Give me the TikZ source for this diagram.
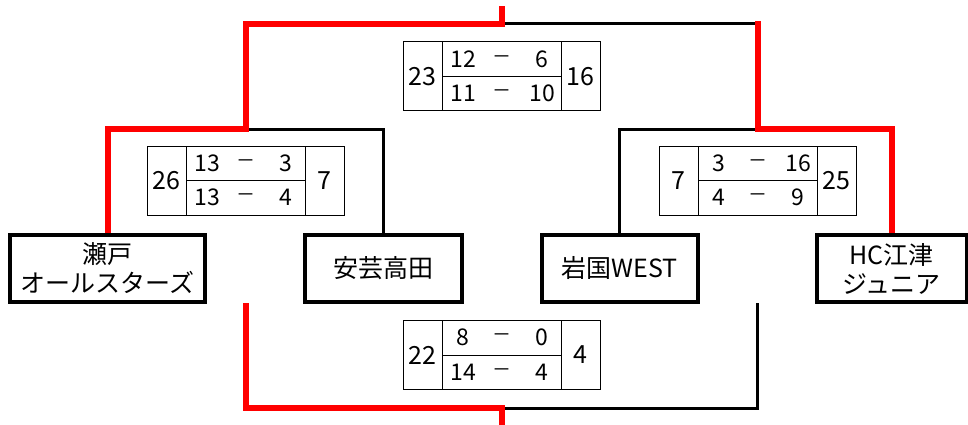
\documentclass[tikz,border=0pt]{standalone}
\usepackage{fontspec}
\setmainfont{Noto Sans CJK JP}
\usepackage{tikz}
\definecolor{wred}{RGB}{255, 0, 0}

\newcommand{\scoretable}[9]{%
  \node[total] (#1L) at (#2,#3) {#4};
  \node[half, anchor=north west] (#1A) at (#1L.north east) {};
  \node[half, anchor=north west] (#1B) at (#1A.south west) {};
  \node[total, anchor=north west] (#1R) at (#1A.north east) {#9};
  \node[score] (#1a1) at ([xshift=21pt]#1A.west) {#5};
  \node[scoresep] (#1d1) at (#1A.center) {－};
  \node[score] (#1b1) at ([xshift=-19pt]#1A.east) {#6};
  \node[score] (#1a2) at ([xshift=21pt]#1B.west) {#7};
  \node[scoresep] (#1d2) at (#1B.center) {－};
  \node[score] (#1b2) at ([xshift=-19pt]#1B.east) {#8};
}

\begin{document}
\begin{tikzpicture}[x=1pt, y=-1pt]
                \useasboundingbox (0,0) rectangle (968,425);

                \tikzstyle{team}=[rectangle, draw, line width=4pt, minimum height=67pt, inner sep=0pt, align=center, font=\fontsize{25}{29}\selectfont]
                \tikzstyle{total}=[rectangle, draw, line width=1pt, minimum width=39pt, minimum height=69pt, inner sep=0pt, outer sep=0pt, font=\fontsize{25}{25}\selectfont]
                \tikzstyle{half}=[rectangle, draw, line width=1pt, minimum width=119pt, minimum height=34.5pt, inner sep=0pt, outer sep=0pt]
                \tikzstyle{score}=[inner sep=0pt, font=\fontsize{23}{23}\selectfont]
                \tikzstyle{scoresep}=[inner sep=0pt, font=\fontsize{19}{19}\selectfont]

                \node[team, minimum width=195pt] (seto) at (107.5,268.5) {瀬戸\\オールスターズ};
                \node[team, minimum width=156.5pt] (akitakata) at (383.25,268.5) {安芸高田};
                \node[team, minimum width=155.5pt] (iwakuni) at (619.75,268.5) {岩国WEST};
                \node[team, minimum width=149.5pt] (goutsu) at (891.75,268.5) {HC江津\\ジュニア};

                \scoretable{fin}{422.5}{76.5}{23}{12}{6}{11}{10}{16}
                \scoretable{semiL}{166.5}{180.5}{26}{13}{3}{13}{4}{7}
                \scoretable{semiR}{678.5}{180.5}{7}{3}{16}{4}{9}{25}
                \scoretable{third}{422.5}{355}{22}{8}{0}{14}{4}{4}

                \coordinate (jL) at (245.5,129);
                \coordinate (jR) at (758,129);
                \coordinate (jRtop) at (758,21);
                \coordinate (top) at (502,24);
                \coordinate (champ) at (502,6);
                \coordinate (bL) at (245.5,303);
                \coordinate (bR) at (757,303);
                \coordinate (bottom) at (502,408);
                \coordinate (bronze) at (502,425);

                \tikzstyle{lose}=[line width=3pt, black]
                \tikzstyle{win}=[line width=6pt, wred]

                \draw[lose] (akitakata.north) |- (jL);
                \draw[lose] (iwakuni.north) |- (jR);
                \draw[lose] (jR) |- (top);
                \draw[lose] (bR) |- (bottom);

                \draw[win] (seto.north) |- (jL) |- (top) -- (champ);
                \draw[win] (goutsu.north) |- (jR) -- (jRtop);
                \draw[win] (bL) |- (bottom) -- (bronze);
            \end{tikzpicture}
\end{document}
